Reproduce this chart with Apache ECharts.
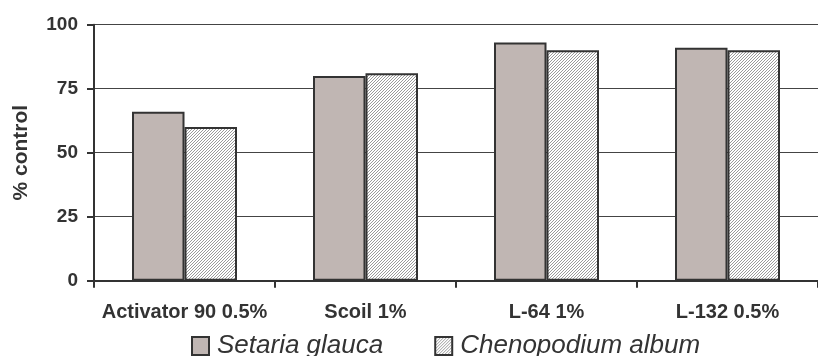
<!DOCTYPE html>
<html>
<head>
<meta charset="utf-8">
<script src="https://cdn.jsdelivr.net/npm/echarts@6/dist/echarts.min.js"></script>
<style>
html,body{margin:0;padding:0;background:#fff;}
#chart{width:818px;height:356px;}
</style>
</head>
<body>
<div id="chart"></div>
<script>
const categories = ['Activator 90 0.5%', 'Scoil 1%', 'L-64 1%', 'L-132 0.5%'];
const seriesNames = ['Setaria glauca', 'Chenopodium album'];
const setariaValues = [66, 80, 93, 91];
const chenopodiumValues = [60, 81, 90, 90];
const yTicks = [0, 25, 50, 75, 100];

function makeHatch() {
  const c = document.createElement('canvas');
  c.width = 3; c.height = 3;
  const ctx = c.getContext('2d');
  ctx.fillStyle = '#ffffff';
  ctx.fillRect(0, 0, 3, 3);
  ctx.fillStyle = '#9a9a9a';
  for (let i = 0; i < 3; i++) {
    ctx.fillRect(i, 2 - i, 1, 1);
  }
  return c;
}
const hatch = { image: makeHatch(), repeat: 'repeat' };

const font = '"Liberation Sans", Arial, Helvetica, sans-serif';
const chart = echarts.init(document.getElementById('chart'), null, { renderer: 'canvas' });
chart.setOption({
  animation: false,
  backgroundColor: '#ffffff',
  grid: { left: 94, right: -7, top: 24.7, bottom: 75.3, containLabel: false },
  legend: {
    left: 191, top: 333, padding: 0,
    icon: 'rect',
    itemWidth: 17, itemHeight: 18, itemGap: 51,
    itemStyle: { borderColor: '#333', borderWidth: 2 },
    textStyle: { fontFamily: font, fontSize: 26, fontStyle: 'italic', color: '#333', padding: [0, 0, 0, 3] },
    data: seriesNames
  },
  xAxis: {
    type: 'category',
    data: categories,
    axisLine: { lineStyle: { color: '#333', width: 2 } },
    axisTick: { show: true, interval: 0, length: 7, lineStyle: { color: '#333', width: 2 } },
    axisLabel: { interval: 0, margin: 22, fontFamily: font, fontSize: 20, fontWeight: 'bold', color: '#333' },
    splitLine: { show: false }
  },
  yAxis: {
    type: 'value',
    min: yTicks[0], max: yTicks[yTicks.length - 1], interval: 25,
    name: '% control',
    nameLocation: 'middle',
    nameGap: 62,
    nameRotate: 90,
    nameTextStyle: { fontFamily: font, fontSize: 21, fontWeight: 'bold', color: '#333' },
    axisLine: { show: true, lineStyle: { color: '#333', width: 2 } },
    axisTick: { show: true, length: 7, lineStyle: { color: '#333', width: 2 } },
    axisLabel: { margin: 16, fontFamily: font, fontSize: 19, fontWeight: 'bold', color: '#333' },
    splitLine: { show: true, lineStyle: { color: '#444', width: 1 } }
  },
  series: [
    {
      name: seriesNames[0], type: 'bar', data: setariaValues,
      barWidth: 52.5, barGap: '0%',
      itemStyle: { color: '#c0b6b3', borderColor: '#333', borderWidth: 2 }
    },
    {
      name: seriesNames[1], type: 'bar', data: chenopodiumValues,
      barWidth: 52.5, barGap: '0%',
      itemStyle: { color: hatch, borderColor: '#333', borderWidth: 2 }
    }
  ]
});
</script>
</body>
</html>
